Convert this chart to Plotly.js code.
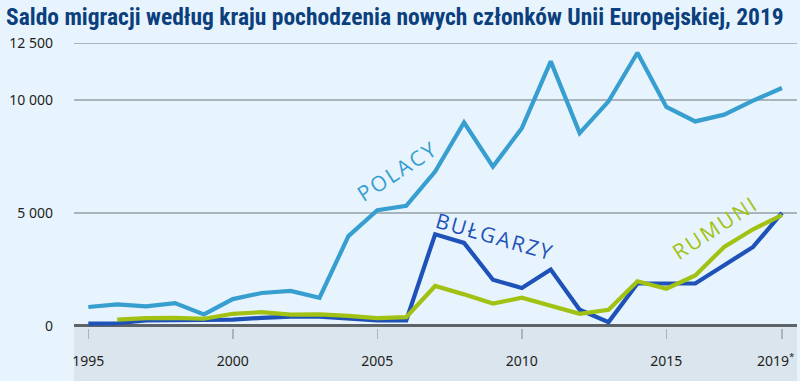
<!DOCTYPE html>
<html>
<head>
<meta charset="utf-8">
<script src="https://cdn.plot.ly/plotly-3.0.1.min.js"></script>
<style>html,body{margin:0;padding:0;background:#e8f4fd;}#chart{width:800px;height:381px;}</style>
</head>
<body>
<div id="chart"></div>
<script>
// Years
const years = [1995,1996,1997,1998,1999,2000,2001,2002,2003,2004,2005,2006,2007,2008,2009,2010,2011,2012,2013,2014,2015,2016,2017,2018,2019];
// Net migration (persons)
const polacy   = [830,950,860,1000,500,1180,1450,1540,1240,3970,5120,5310,6830,9000,7050,8750,11710,8530,9940,12090,9690,9050,9350,9970,10530];
const bulgarzy = [90,110,240,240,270,270,350,400,400,320,240,240,4050,3670,2040,1670,2490,710,160,1870,1870,1870,2680,3490,5000];
const rumuni   = [null,270,340,350,310,530,600,490,500,440,340,380,1760,1390,980,1240,900,530,710,1970,1640,2230,3490,4270,4900];
// Axis labels
const yTickVals = [0,5000,10000,12500];
const yTickText = ['0','5 000','10 000','12 500'];
const xTickVals = [1995,2000,2005,2010,2015];
const xTickText = ['1995','2000','2005','2010','2015'];
const lastYear = 2019;
const lastYearLabel = '2019<sup>*</sup>';
const seriesNames = ['POLACY','BUŁGARZY','RUMUNI'];
const titleText = 'Saldo migracji według kraju pochodzenia nowych członków Unii Europejskiej, 2019';

const cPol = '#379ed0', cBul = '#1f52b8', cRum = '#a2c213';
const tickFont = {family:'"Noto Sans", "Open Sans", sans-serif', size:14, color:'#231f20'};
const labelFont = '"Open Sans", "Noto Sans", sans-serif';
const spaced = s => Array.from(s).join('\u200A');

const traces = [
  {x:years, y:polacy, name:seriesNames[0], mode:'lines', line:{color:cPol, width:4.2}},
  {x:years, y:bulgarzy, name:seriesNames[1], mode:'lines', line:{color:cBul, width:4.2}},
  {x:years, y:rumuni, name:seriesNames[2], mode:'lines', line:{color:cRum, width:4.2}}
];

const plotBottom = 381-53, plotH = 381-39-53;
const layout = {
  width:800, height:381,
  margin:{l:74, r:3, t:39, b:53},
  paper_bgcolor:'#e8f4fd', plot_bgcolor:'#e8f4fd',
  showlegend:false,
  title:{text:'<b>'+titleText+'</b>', x:6/800, xanchor:'left', xref:'container', yref:'container', y:1-17/381, yanchor:'middle',
    font:{family:'"Liberation Sans Narrow", "Roboto Condensed", "DejaVu Sans Condensed", sans-serif', size:23.5, color:'#0b3f7d'}},
  xaxis:{range:[1994.505,2019.52], tickmode:'array', tickvals:xTickVals, ticktext:xTickText, showgrid:false, zeroline:false, showline:false,
    ticks:'outside', ticklen:10, tickwidth:1.5, tickcolor:'#a9b4bc', tickfont:tickFont, ticklabelstandoff:10, fixedrange:true,
    minor:{tickmode:'array', tickvals:[lastYear], ticks:'outside', ticklen:10, tickwidth:1.5, tickcolor:'#a9b4bc', showgrid:false}},
  yaxis:{range:[-100,12700], tickvals:yTickVals, ticktext:yTickText, showgrid:true, gridcolor:'#a9b5bd', gridwidth:1.5,
    zeroline:true, zerolinecolor:'#5e6367', zerolinewidth:2.7, showline:false, ticks:'', tickfont:tickFont, ticklabelstandoff:20, fixedrange:true},
  shapes:[{type:'rect', xref:'paper', yref:'paper', x0:0, x1:1, y0:-0.6, y1:100/12800, fillcolor:'#dae5ee', line:{width:0}, layer:'below'}],
  annotations:[
    {text:spaced(seriesNames[0]), x:2005.68, y:6850, xref:'x', yref:'y', showarrow:false, textangle:-33, xanchor:'center', yanchor:'middle',
      font:{family:labelFont, size:21, color:cPol}},
    {text:spaced(seriesNames[1]), x:2009.04, y:3960, xref:'x', yref:'y', showarrow:false, textangle:16, xanchor:'center', yanchor:'middle',
      font:{family:labelFont, size:21, color:cBul}},
    {text:spaced(seriesNames[2]), x:2016.65, y:4315, xref:'x', yref:'y', showarrow:false, textangle:-33, xanchor:'center', yanchor:'middle',
      font:{family:labelFont, size:21, color:cRum}},
    {text:lastYearLabel, x:2018.76, xref:'x', yref:'paper', y:(plotBottom-360)/plotH, yanchor:'middle', xanchor:'center', showarrow:false,
      font:tickFont}
  ]
};

Plotly.newPlot('chart', traces, layout, {displayModeBar:false, staticPlot:true});
</script>
</body>
</html>
